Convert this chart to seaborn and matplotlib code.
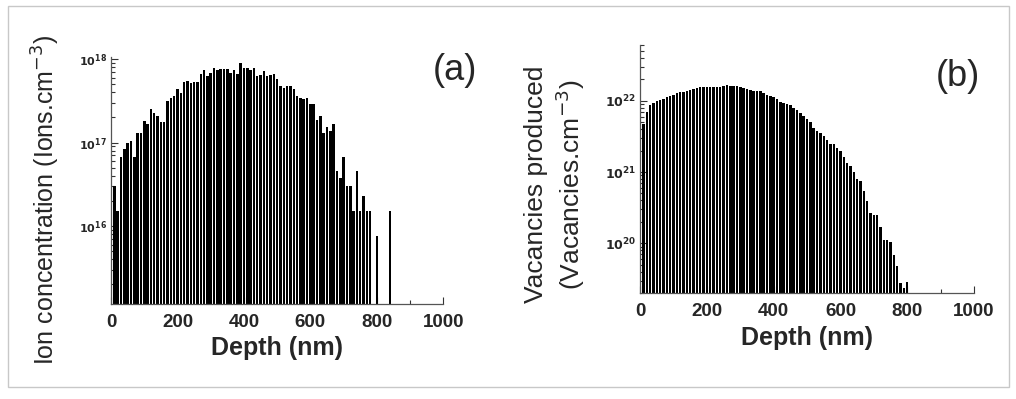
import numpy as np
import matplotlib
matplotlib.use("Agg")
import matplotlib.pyplot as plt
import matplotlib.ticker as mticker
from matplotlib.patches import Rectangle
import seaborn as sns

# (a) ion concentration, depth in nm (no counts at 790, 810-830)
depth_a = list(range(10, 790, 10)) + [800, 840]
ions = [
    3.0e16, 1.5e16, 6.7e16, 8.3e16, 9.8e16, 1.05e17, 6.7e16, 1.29e17, 1.29e17, 1.81e17,
    1.67e17, 2.5e17, 2.24e17, 2.1e17, 1.74e17, 1.74e17, 3.15e17, 3.4e17, 3.6e17, 4.4e17,
    3.9e17, 5.3e17, 5.5e17, 5.1e17, 5.3e17, 5.3e17, 6.7e17, 7.4e17, 6.3e17, 6.9e17,
    7.8e17, 7.4e17, 7.7e17, 7.6e17, 7.6e17, 6.9e17, 7.4e17, 6.6e17, 9.0e17, 7.8e17,
    7.8e17, 7.4e17, 7.8e17, 6.2e17, 6.5e17, 7.2e17, 6.3e17, 6.5e17, 6.6e17, 5.7e17,
    4.75e17, 4.45e17, 4.75e17, 4.75e17, 4.4e17, 3.6e17, 3.45e17, 3.3e17, 3.4e17, 2.9e17,
    2.9e17, 1.86e17, 2.1e17, 1.29e17, 1.55e17, 1.37e17, 1.65e17, 4.6e16, 3.8e16, 6.7e16,
    3.0e16, 3.0e16, 1.5e16, 4.6e16, 1.5e16, 2.3e16, 1.5e16, 1.5e16,
    7.6e15, 1.5e16,
]

# (b) vacancies produced
depth_b = list(range(10, 810, 10))
vacancies = [
    4.7e21, 7.0e21, 8.7e21, 9.4e21, 9.9e21, 1.02e22, 1.06e22, 1.12e22, 1.16e22, 1.21e22,
    1.27e22, 1.31e22, 1.31e22, 1.37e22, 1.41e22, 1.46e22, 1.51e22, 1.54e22, 1.56e22, 1.56e22,
    1.56e22, 1.56e22, 1.57e22, 1.57e22, 1.61e22, 1.66e22, 1.63e22, 1.63e22, 1.61e22, 1.57e22,
    1.52e22, 1.46e22, 1.41e22, 1.38e22, 1.38e22, 1.35e22, 1.27e22, 1.21e22, 1.17e22, 1.12e22,
    1.06e22, 9.7e21, 9.2e21, 9.0e21, 8.7e21, 7.9e21, 7.4e21, 6.8e21, 6.2e21, 5.5e21,
    5.1e21, 4.2e21, 3.76e21, 3.5e21, 3.2e21, 2.8e21, 2.5e21, 2.45e21, 2.2e21, 1.97e21,
    1.64e21, 1.35e21, 1.21e21, 1.0e21, 8.1e20, 7.6e20, 5.4e20, 3.9e20, 2.7e20, 2.5e20,
    2.5e20, 1.7e20, 1.12e20, 1.12e20, 1.04e20, 6.8e19, 4.8e19, 2.8e19, 2.4e19, 2.9e19,
]

sns.set_style("ticks")
plt.rcParams["font.family"] = ["Liberation Sans", "DejaVu Sans"]

fig = plt.figure(figsize=(10.16, 3.99), dpi=100)
fig.patches.append(Rectangle((0.008, 0.03), 0.985, 0.955, transform=fig.transFigure,
                             fill=False, edgecolor="#c8c8c8", linewidth=1))

ax1 = fig.add_axes([0.1093, 0.238, 0.327, 0.619])
ax2 = fig.add_axes([0.630, 0.265, 0.3287, 0.622])


def pow_fmt(v, pos):
    return r"$\mathbf{10^{%d}}$" % round(np.log10(v))


def style(ax, ylim, ytick_size):
    ax.set_yscale("log")
    ax.set_xlim(0, 1000)
    ax.set_ylim(*ylim)
    ax.xaxis.set_major_locator(mticker.MultipleLocator(200))
    ax.xaxis.set_minor_locator(mticker.MultipleLocator(100))
    ax.yaxis.set_major_locator(mticker.LogLocator(base=10))
    ax.yaxis.set_minor_locator(mticker.LogLocator(base=10, subs=np.arange(2, 10)))
    ax.yaxis.set_major_formatter(mticker.FuncFormatter(pow_fmt))
    ax.yaxis.set_minor_formatter(mticker.NullFormatter())
    ax.tick_params(which="both", direction="in", width=0.8, color="#333333")
    ax.tick_params(which="major", length=5)
    ax.tick_params(which="minor", length=3)
    ax.tick_params(axis="x", labelsize=13.5, pad=7)
    ax.tick_params(axis="y", labelsize=ytick_size, pad=3)
    for lab in ax.get_xticklabels():
        lab.set_fontweight("bold")
    sns.despine(ax=ax)
    for s in ("left", "bottom"):
        ax.spines[s].set_color("#555555")
        ax.spines[s].set_linewidth(0.9)
    ax.set_xlabel("Depth (nm)", fontsize=18, fontweight="bold", labelpad=4)


sns.barplot(x=depth_a, y=ions, native_scale=True, color="black", saturation=1,
            width=0.75, errorbar=None, linewidth=0, ax=ax1)
style(ax1, (10 ** 15.066, 10 ** 18.024), 8)
ax1.set_ylabel("Ion concentration (Ions.cm$^{-3}$)", fontsize=18)
ax1.yaxis.set_label_coords(-0.148, 0.42)
ax1.text(1.036, 0.945, "(a)", transform=ax1.transAxes, fontsize=26, ha="center", va="center")

sns.barplot(x=depth_b, y=vacancies, native_scale=True, color="black", saturation=1,
            width=0.75, errorbar=None, linewidth=0, ax=ax2)
style(ax2, (10 ** 19.30, 10 ** 22.78), 9)
ax2.set_ylabel("Vacancies produced\n(Vacancies.cm$^{-3}$)", fontsize=19, linespacing=1.2)
ax2.yaxis.set_label_coords(-0.16, 0.437)
ax2.text(0.952, 0.872, "(b)", transform=ax2.transAxes, fontsize=26, ha="center", va="center")

fig.savefig("out.png", dpi=100)
